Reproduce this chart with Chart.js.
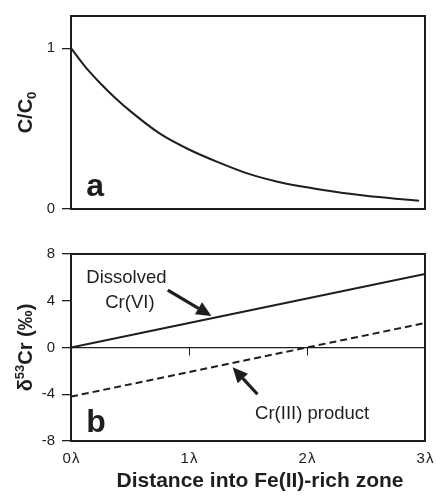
<!DOCTYPE html>
<html>
<head>
<meta charset="utf-8">
<script src="https://cdn.jsdelivr.net/npm/chart.js@4.4.0/dist/chart.umd.min.js"></script>
<style>
  html, body { margin: 0; padding: 0; background: #fff; }
  #wrap { position: relative; width: 436px; height: 498px; }
  .box { position: absolute; left: 0; width: 436px; }
  #boxA { top: 0; height: 230px; }
  #boxB { top: 230px; height: 268px; }
</style>
</head>
<body>
<div id="wrap">
  <div class="box" id="boxA"><canvas id="chartA"></canvas></div>
  <div class="box" id="boxB"><canvas id="chartB"></canvas></div>
</div>
<script>
// panel a: relative concentration along the flow path
const distA = [0, 0.125, 0.25, 0.375, 0.5, 0.75, 1, 1.25, 1.5, 1.75, 2, 2.25, 2.5, 2.75, 2.95];
const concA = [1.00, 0.88, 0.78, 0.69, 0.61, 0.47, 0.37, 0.29, 0.22, 0.17, 0.135, 0.105, 0.082, 0.064, 0.052];

// panel b: isotope ratios
const distB = [0, 1, 2, 3];
const cr6 = [0, 2.1, 4.2, 6.3];
const cr3 = [-4.2, -2.1, 0, 2.1];

const ticksA = [0, 1];
const ticksB = [-8, -4, 0, 4, 8];
const xLabels = ['0\u200Aλ', '1\u200Aλ', '2\u200Aλ', '3\u200Aλ'];

const ink = '#1e1e1e';
const FONT = '"Liberation Sans", Arial, Helvetica, sans-serif';

function pts(xs, ys) {
  return xs.map((x, i) => ({ x: x, y: ys[i] }));
}

// text made of pieces with their own font and baseline shift
function drawRich(ctx, parts, x, y, rotate) {
  ctx.save();
  ctx.translate(x, y);
  if (rotate) ctx.rotate(rotate);
  let total = 0;
  parts.forEach(p => { ctx.font = p.f; total += ctx.measureText(p.t).width; });
  let cx = -total / 2;
  ctx.fillStyle = ink;
  ctx.textBaseline = 'alphabetic';
  ctx.textAlign = 'left';
  parts.forEach(p => {
    ctx.font = p.f;
    ctx.fillText(p.t, cx, p.dy || 0);
    cx += ctx.measureText(p.t).width;
  });
  ctx.restore();
}

function drawArrow(ctx, x1, y1, x2, y2) {
  const ang = Math.atan2(y2 - y1, x2 - x1);
  const len = 15, half = 7;
  const bx = x2 - len * Math.cos(ang), by = y2 - len * Math.sin(ang);
  ctx.save();
  ctx.strokeStyle = ink;
  ctx.fillStyle = ink;
  ctx.lineWidth = 3.2;
  ctx.beginPath();
  ctx.moveTo(x1, y1);
  ctx.lineTo(bx, by);
  ctx.stroke();
  ctx.beginPath();
  ctx.moveTo(x2, y2);
  ctx.lineTo(bx + half * Math.sin(ang), by - half * Math.cos(ang));
  ctx.lineTo(bx - half * Math.sin(ang), by + half * Math.cos(ang));
  ctx.closePath();
  ctx.fill();
  ctx.restore();
}

// box around the plot area
const frame = {
  id: 'frame',
  afterDraw(chart) {
    const { ctx, chartArea: a } = chart;
    ctx.save();
    ctx.strokeStyle = ink;
    ctx.lineWidth = 2;
    ctx.strokeRect(a.left, a.top, a.right - a.left, a.bottom - a.top);
    ctx.restore();
  }
};

// labels, arrows, panel letter and axis titles
const notes = {
  id: 'notes',
  afterDraw(chart, args, o) {
    const { ctx, chartArea: a } = chart;
    const xs = chart.scales.x, ys = chart.scales.y;
    ctx.save();
    (o.texts || []).forEach(t => {
      ctx.font = t.font;
      ctx.fillStyle = ink;
      ctx.textAlign = 'left';
      ctx.textBaseline = 'alphabetic';
      ctx.fillText(t.text, xs.getPixelForValue(t.x), ys.getPixelForValue(t.y));
    });
    (o.arrows || []).forEach(r => {
      drawArrow(ctx, xs.getPixelForValue(r.from[0]), ys.getPixelForValue(r.from[1]),
        xs.getPixelForValue(r.to[0]), ys.getPixelForValue(r.to[1]));
    });
    if (o.zeroTicks) {
      const y0 = ys.getPixelForValue(0);
      ctx.strokeStyle = ink;
      ctx.lineWidth = 1;
      o.zeroTicks.forEach(v => {
        const px = Math.round(xs.getPixelForValue(v)) + 0.5;
        ctx.beginPath();
        ctx.moveTo(px, y0);
        ctx.lineTo(px, y0 + 8);
        ctx.stroke();
      });
    }
    if (o.yTitle) drawRich(ctx, o.yTitle, 32, (a.top + a.bottom) / 2, -Math.PI / 2);
    if (o.xTitle) drawRich(ctx, o.xTitle, (a.left + a.right) / 2 + 12, chart.height - 11, 0);
    ctx.restore();
  }
};

function yScale(min, max, vals) {
  return {
    min: min, max: max,
    afterBuildTicks: s => { s.ticks = vals.map(v => ({ value: v })); },
    afterFit: s => { s.width = 71; },
    border: { display: false },
    grid: {
      drawOnChartArea: true,
      color: c => (c.tick && c.tick.value === 0 && min < 0) ? ink : 'rgba(0,0,0,0)',
      tickColor: ink,
      tickLength: 9,
      lineWidth: 1.3
    },
    ticks: {
      padding: 7,
      color: ink,
      font: { family: FONT, size: 15 },
      callback: v => String(v)
    }
  };
}

const baseOpts = {
  responsive: true,
  maintainAspectRatio: false,
  animation: false,
  events: []
};

new Chart(document.getElementById('chartA'), {
  type: 'line',
  data: {
    datasets: [{
      data: pts(distA, concA),
      borderColor: ink,
      borderWidth: 2,
      pointRadius: 0,
      cubicInterpolationMode: 'monotone',
      fill: false
    }]
  },
  options: Object.assign({}, baseOpts, {
    layout: { padding: { top: 13, right: 11, bottom: 21, left: 0 } },
    scales: {
      x: { type: 'linear', min: 0, max: 3, display: false },
      y: yScale(0, 1.2, ticksA)
    },
    plugins: {
      legend: { display: false },
      tooltip: { enabled: false },
      notes: {
        texts: [{ text: 'a', x: 0.13, y: 0.08, font: 'bold 32px ' + FONT }],
        yTitle: [
          { t: 'C/C', f: 'bold 20px ' + FONT },
          { t: '0', f: 'bold 13px ' + FONT, dy: 4 }
        ]
      }
    }
  }),
  plugins: [frame, notes]
});

new Chart(document.getElementById('chartB'), {
  type: 'line',
  data: {
    datasets: [{
      label: 'Dissolved Cr(VI)',
      data: pts(distB, cr6),
      borderColor: ink,
      borderWidth: 2,
      pointRadius: 0,
      tension: 0,
      fill: false
    }, {
      label: 'Cr(III) product',
      data: pts(distB, cr3),
      borderColor: ink,
      borderWidth: 2,
      borderDash: [7, 4],
      pointRadius: 0,
      tension: 0,
      fill: false
    }]
  },
  options: Object.assign({}, baseOpts, {
    layout: { padding: { top: 24, right: 11, bottom: 0, left: 0 } },
    scales: {
      x: {
        type: 'linear', min: 0, max: 3,
        afterBuildTicks: s => { s.ticks = distB.map(v => ({ value: v })); },
        afterFit: s => { s.height = 57; s.paddingLeft = 0; s.paddingRight = 0; },
        border: { display: false },
        grid: { display: false, drawTicks: false },
        ticks: {
          padding: 9,
          color: ink,
          maxRotation: 0,
          font: { family: FONT, size: 15 },
          callback: (v, i) => xLabels[i]
        }
      },
      y: yScale(-8, 8, ticksB)
    },
    plugins: {
      legend: { display: false },
      tooltip: { enabled: false },
      notes: {
        texts: [
          { text: 'Dissolved', x: 0.13, y: 5.5, font: '18.5px ' + FONT },
          { text: 'Cr(VI)', x: 0.29, y: 3.35, font: '18.5px ' + FONT },
          { text: 'Cr(III) product', x: 1.56, y: -6.15, font: '18.5px ' + FONT },
          { text: 'b', x: 0.13, y: -7.25, font: 'bold 32px ' + FONT }
        ],
        arrows: [
          { from: [0.82, 4.9], to: [1.19, 2.7] },
          { from: [1.58, -4.0], to: [1.37, -1.7] }
        ],
        zeroTicks: [1, 2],
        yTitle: [
          { t: 'δ', f: 'bold 20px ' + FONT },
          { t: '53', f: 'bold 13px ' + FONT, dy: -8 },
          { t: 'Cr (‰)', f: 'bold 20px ' + FONT }
        ],
        xTitle: [
          { t: 'Distance into Fe(II)-rich zone', f: 'bold 21px ' + FONT }
        ]
      }
    }
  }),
  plugins: [frame, notes]
});
</script>
</body>
</html>
